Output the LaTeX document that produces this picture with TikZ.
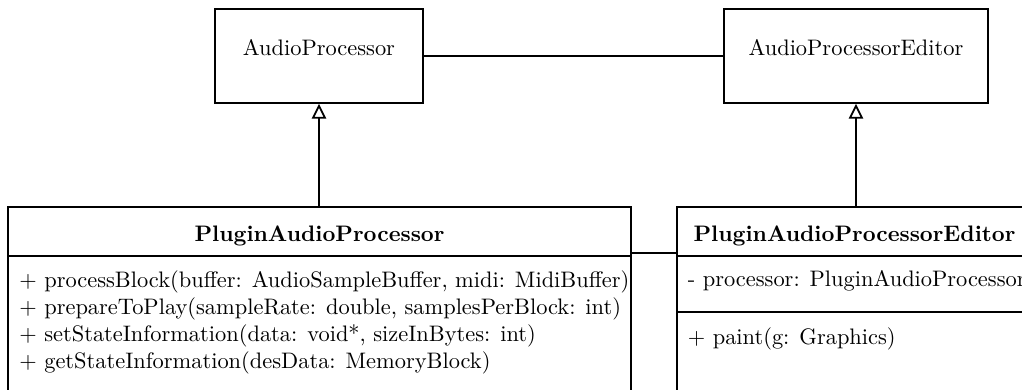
\documentclass[tikz,border=0pt]{standalone}
\usetikzlibrary{arrows.meta,fit}
\begin{document}
\begin{tikzpicture}[x=0.446pt,y=-0.446pt,line width=0.8pt,
  classbox/.style={draw,inner sep=0pt,fit={#1}},
  member/.style={anchor=base west,inner sep=0pt},
  title/.style={anchor=base,inner sep=0pt,font=\bfseries},
  inherits/.style={-{Triangle[open,length=6.6pt,width=6.4pt]}}]
\clip (0,0) rectangle (1022,389);

% abstract framework classes
\node[classbox={(215,9) (423,103)}] (ap) {AudioProcessor};
\node[classbox={(724,9) (988,103)}] (ape) {AudioProcessorEditor};

% plugin processor class
\node[classbox={(8,207) (631,420)}] (pap) {};
\node[title] (papname) at (319.5,241) {PluginAudioProcessor};
\draw (pap.west |- 0,256) -- (pap.east |- 0,256);
\node[member] (m1) at (18.5,287) {+ processBlock(buffer: AudioSampleBuffer, midi: MidiBuffer)};
\node[member] (m2) at (18.5,314) {+ prepareToPlay(sampleRate: double, samplesPerBlock: int)};
\node[member] (m3) at (18.5,341) {+ setStateInformation(data: void*, sizeInBytes: int)};
\node[member] (m4) at (18.5,368) {+ getStateInformation(desData: MemoryBlock)};

% plugin editor class
\node[classbox={(677,207) (1032,420)}] (pape) {};
\node[title] (papename) at (854.5,241) {PluginAudioProcessorEditor};
\draw (pape.west |- 0,256) -- (pape.east |- 0,256);
\node[member] (a1) at (687,286) {- processor: PluginAudioProcessor};
\draw (pape.west |- 0,312) -- (pape.east |- 0,312);
\node[member] (e1) at (687,344) {+ paint(g: Graphics)};

% relations
\draw (ap.east) -- (ape.west);
\draw[inherits] (ap.south |- pap.north) -- (ap.south);
\draw[inherits] (ape.south |- pape.north) -- (ape.south);
\path (pap.north east) ++(0,46.5) coordinate (link);
\draw (link) -- (link -| pape.west);
\end{tikzpicture}
\end{document}
